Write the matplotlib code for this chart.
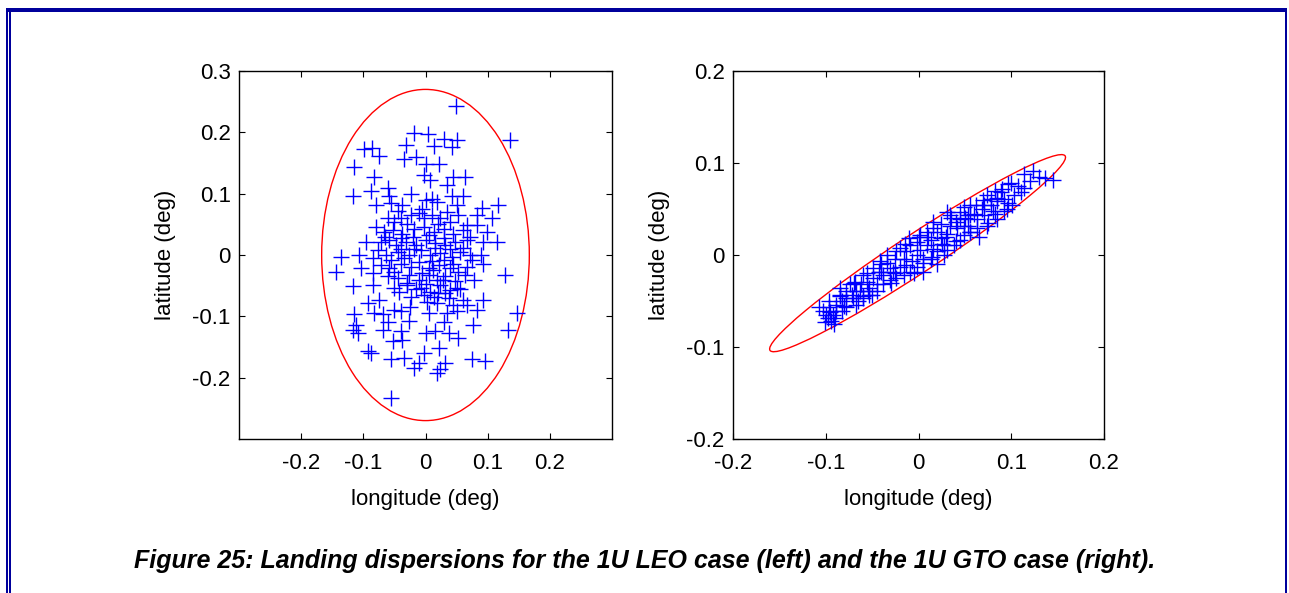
import matplotlib.pyplot as plt
from matplotlib.patches import Ellipse, Rectangle

plt.rcParams['font.family'] = ['Liberation Sans', 'DejaVu Sans']

# 1U LEO case (left panel), landing points in deg
leo_lon = [0.049, 0.136, -0.019, 0.004, 0.029, 0.051, -0.032, 0.013, 0.043, -0.099,
           -0.086, -0.075, -0.035, -0.016, -0.115, 0.000, 0.021, -0.083, -0.003, 0.008,
           0.045, 0.064, 0.035, -0.117, -0.088, -0.059, -0.024, 0.011, 0.043, 0.061,
           -0.080, -0.056, -0.037, 0.117, 0.091, 0.051, 0.019, 0.107, 0.083, 0.083,
           0.099, 0.115, 0.093, -0.136, -0.144, -0.107, -0.096, -0.104, -0.117, -0.085,
           0.128, 0.093, 0.075, 0.093, 0.083, 0.147, 0.133, 0.077, -0.093, -0.083,
           -0.115, -0.069, -0.112, -0.117, -0.109, -0.069, -0.093, -0.088, -0.056, -0.053,
           -0.040, -0.037, -0.035, -0.019, -0.011, -0.003, 0.000, 0.016, 0.021, 0.019,
           0.024, 0.032, 0.037, 0.053, 0.075, 0.096, -0.056, -0.040, -0.027, 0.005,
           0.035, 0.045, 0.051, 0.067, 0.061, 0.019, 0.003, -0.024, -0.043, -0.051,
           -0.075,
           -0.061, -0.051, -0.040, -0.024, -0.011, -0.003, 0.011, 0.024, 0.040, 0.053,
           0.067, -0.067, -0.053, -0.037, -0.019, -0.003, 0.013, 0.029, 0.045, 0.061,
           -0.072, -0.059, -0.048, -0.032, -0.016, 0.000, 0.016, 0.032, 0.048, 0.067,
           -0.077, -0.064, -0.045, -0.027, -0.008, 0.008, 0.024, 0.043, 0.056, 0.072,
           -0.072, -0.059, -0.040, -0.024, -0.011, 0.005, 0.021, 0.040, 0.053, 0.067,
           -0.061, -0.045, -0.027, -0.011, 0.005, 0.019, 0.032, 0.048, 0.064, -0.051,
           -0.029, -0.008, 0.008, 0.024, 0.040, -0.003, 0.013, 0.032, 0.051, -0.085,
           -0.045, -0.030, -0.005, 0.020, 0.035, -0.065, -0.040, 0.005, 0.040, 0.060,
           -0.055, -0.035, -0.018, 0.015, 0.030, -0.050, -0.005, 0.012, 0.028, 0.045,
           -0.030, -0.015, 0.000, 0.020, 0.038, -0.040, -0.020, 0.000, 0.030, 0.010,
           0.072, 0.078, -0.080, -0.085, 0.055, -0.025, 0.030, -0.060, 0.090, -0.060]
leo_lat = [0.2435, 0.188, 0.199, 0.1975, 0.189, 0.188, 0.180, 0.177, 0.176, 0.173,
           0.174, 0.162, 0.157, 0.160, 0.143, 0.149, 0.149, 0.127, 0.130, 0.122,
           0.127, 0.127, 0.114, 0.097, 0.104, 0.097, 0.100, 0.092, 0.097, 0.097,
           0.081, 0.084, 0.081, 0.081, 0.076, 0.081, 0.087, 0.060, 0.065, 0.049,
           0.038, 0.022, 0.022, -0.003, -0.027, 0.000, 0.022, -0.022, -0.051, -0.049,
           -0.032, -0.014, -0.008, -0.073, -0.089, -0.095, -0.122, -0.114, -0.078, -0.095,
           -0.097, -0.097, -0.114, -0.123, -0.127, -0.122, -0.157, -0.160, -0.170, -0.141,
           -0.124, -0.138, -0.168, -0.184, -0.176, -0.160, -0.127, -0.124, -0.151, -0.192,
           -0.186, -0.176, -0.127, -0.135, -0.170, -0.173, -0.233, -0.092, -0.108, -0.095,
           -0.095, -0.081, -0.092, -0.081, -0.073, -0.078, -0.076, -0.068, -0.060, -0.089,
           -0.073,
           0.060, 0.054, 0.060, 0.065, 0.068, 0.060, 0.065, 0.060, 0.054, 0.065,
           0.049, 0.038, 0.041, 0.035, 0.043, 0.046, 0.038, 0.043, 0.035, 0.041,
           0.022, 0.024, 0.016, 0.022, 0.016, 0.024, 0.019, 0.016, 0.022, 0.024,
           0.008, 0.000, 0.005, 0.000, 0.008, 0.000, 0.003, -0.003, 0.005, 0.000,
           -0.016, -0.022, -0.014, -0.019, -0.011, -0.022, -0.016, -0.022, -0.027, -0.019,
           -0.035, -0.038, -0.032, -0.041, -0.032, -0.041, -0.035, -0.043, -0.032, -0.054,
           -0.049, -0.054, -0.060, -0.049, -0.057, -0.065, -0.068, -0.062, -0.054, -0.005,
           0.072, 0.050, 0.075, 0.050, 0.070, 0.030, 0.028, 0.032, 0.010, 0.012,
           -0.008, -0.005, 0.010, 0.012, -0.008, -0.028, -0.030, -0.025, -0.040, -0.015,
           -0.045, -0.055, -0.048, -0.062, -0.070, 0.010, 0.030, 0.090, 0.028, -0.010,
           0.030, -0.040, 0.045, -0.030, -0.055, -0.085, -0.110, 0.110, 0.000, -0.110]

# 1U GTO case (right panel), landing points in deg
gto_lon = [0.123, 0.136, 0.145, 0.114, 0.107, 0.096, 0.114, 0.089, 0.082, 0.074,
           0.085, 0.096, 0.092, 0.082, 0.074, 0.069, 0.062, 0.056, 0.049, 0.045,
           0.053, 0.063, 0.071, 0.078, 0.085,
           0.042, 0.034, 0.031, 0.024, 0.027, 0.020, 0.013, 0.016, 0.009, 0.002,
           0.005, -0.002, -0.007, -0.013, -0.016, -0.020, -0.025, -0.031, -0.034, -0.038,
           -0.043, -0.049, -0.053, -0.056, -0.062, -0.067, -0.071, -0.078, -0.082, -0.085,
           -0.089, -0.096, -0.100, -0.103, -0.094, -0.091, -0.107, -0.078, -0.060, -0.045,
           -0.031, -0.016, -0.002, 0.013, 0.027, 0.038, 0.049, 0.056, 0.045, 0.031,
           0.020, 0.005, -0.009, -0.024, -0.038, -0.053, -0.067, -0.082, -0.092, 0.034,
           0.024, 0.016, 0.002, -0.009, -0.024, -0.034, -0.042, -0.049, -0.060, -0.069,
           -0.074, -0.078, -0.085, -0.096, -0.098, 0.063, 0.071, 0.078, 0.056, 0.045,
           0.040, 0.031, 0.016, 0.009, -0.002, -0.013, -0.027, -0.040, -0.054, -0.063,
           -0.072, -0.089, -0.101, 0.103, 0.092, 0.101, 0.053, 0.049,
           0.000, 0.005, -0.020, -0.030, 0.020, 0.035, 0.040, 0.060, 0.065, 0.070,
           0.080, 0.090, 0.095, 0.110, 0.120, -0.010, -0.040, -0.045, -0.055, -0.065,
           -0.070, -0.080, -0.085, -0.090, -0.095, 0.010, 0.015, 0.025, 0.050, 0.055,
           -0.005, -0.025, -0.050, -0.060, 0.075, 0.100, 0.130, 0.085, -0.015, 0.030]
gto_lat = [0.091, 0.084, 0.082, 0.088, 0.075, 0.077, 0.073, 0.068, 0.070, 0.065,
           0.059, 0.057, 0.048, 0.045, 0.032, 0.050, 0.054, 0.043, 0.052, 0.039,
           0.032, 0.039, 0.043, 0.054, 0.039,
           0.029, 0.032, 0.023, 0.018, 0.011, 0.025, 0.016, 0.007, 0.011, 0.005,
           -0.004, 0.000, -0.007, 0.004, -0.004, -0.013, -0.004, -0.014, -0.009, -0.022,
           -0.018, -0.025, -0.036, -0.029, -0.032, -0.039, -0.047, -0.039, -0.050, -0.036,
           -0.054, -0.057, -0.065, -0.061, -0.072, -0.075, -0.057, -0.056, -0.047, -0.039,
           -0.027, -0.022, -0.013, -0.004, 0.000, 0.011, 0.022, 0.025, 0.016, 0.005,
           0.004, -0.009, -0.018, -0.025, -0.032, -0.043, -0.054, -0.061, -0.065, 0.043,
           0.034, 0.029, 0.022, 0.011, 0.004, 0.000, -0.007, -0.014, -0.022, -0.029,
           -0.032, -0.047, -0.043, -0.050, -0.068, 0.029, 0.054, 0.061, 0.054, 0.047,
           0.036, 0.047, 0.036, 0.025, 0.014, -0.011, -0.018, -0.018, -0.039, -0.039,
           -0.043, -0.061, -0.073, 0.065, 0.061, 0.054, 0.043, 0.032,
           0.020, -0.018, 0.008, -0.030, -0.010, 0.040, 0.015, 0.045, 0.020, 0.060,
           0.048, 0.072, 0.050, 0.068, 0.080, 0.018, -0.010, -0.032, -0.020, -0.050,
           -0.030, -0.055, -0.045, -0.068, -0.062, 0.020, -0.002, 0.012, 0.040, 0.025,
           -0.020, -0.020, -0.044, -0.045, 0.035, 0.078, 0.085, 0.062, 0.012, 0.020]

# dispersion ellipses: center, full width, full height, angle (deg)
leo_ell = ((0.0, 0.0), 0.334, 0.540, 0.0)
gto_ell = ((-0.001, 0.002), 0.382, 0.042, 33.6)

W, H = 1289, 593
fig = plt.figure(figsize=(W / 100, H / 100), dpi=100)

def px_axes(x0, y0, x1, y1):
    return fig.add_axes([x0 / W, 1 - y1 / H, (x1 - x0) / W, (y1 - y0) / H])

ax1 = px_axes(239, 71, 612, 439)
ax2 = px_axes(733, 71, 1104, 439)

panels = [
    (ax1, leo_lon, leo_lat, leo_ell, (-0.3, 0.3), (-0.3, 0.3),
     [-0.2, -0.1, 0, 0.1, 0.2], [-0.2, -0.1, 0, 0.1, 0.2, 0.3]),
    (ax2, gto_lon, gto_lat, gto_ell, (-0.2, 0.2), (-0.2, 0.2),
     [-0.2, -0.1, 0, 0.1, 0.2], [-0.2, -0.1, 0, 0.1, 0.2]),
]

for ax, lon, lat, ell, xl, yl, xt, yt in panels:
    ax.plot(lon, lat, '+', color='#0000ff', ms=11, mew=1.0, ls='none')
    (cx, cy), w, h, ang = ell
    ax.add_patch(Ellipse((cx, cy), w, h, angle=ang, fill=False,
                         edgecolor='#ff0000', lw=1.0))
    ax.set_xlim(*xl)
    ax.set_ylim(*yl)
    ax.set_xticks(xt)
    ax.set_yticks(yt)
    ax.set_xticklabels([f'{v:g}' for v in xt])
    ax.set_yticklabels([f'{v:g}' for v in yt])
    ax.tick_params(direction='in', top=True, right=True, length=4, width=0.8,
                   labelsize=16, colors='black')
    ax.tick_params(axis='x', pad=10)
    ax.tick_params(axis='y', pad=6)
    for s in ax.spines.values():
        s.set_linewidth(1.0)
    ax.set_xlabel('longitude (deg)', fontsize=16, labelpad=11)
    ax.set_ylabel('latitude (deg)', fontsize=16, labelpad=12)

fig.text(645 / W, 1 - 561 / H,
         'Figure 25: Landing dispersions for the 1U LEO case (left) and the 1U GTO case (right).',
         ha='center', va='center', fontsize=18, fontweight='bold', fontstyle='italic')

# page frame (double blue rule)
frame_col = '#00009c'
for x0, y0, w, h in [(6, 8, 1281, 4), (6, 8, 2, 585), (9, 8, 2, 585), (1285, 8, 2, 585)]:
    fig.add_artist(Rectangle((x0 / W, 1 - (y0 + h) / H), w / W, h / H,
                             transform=fig.transFigure, color=frame_col, lw=0))

fig.savefig('out.png', dpi=100)
